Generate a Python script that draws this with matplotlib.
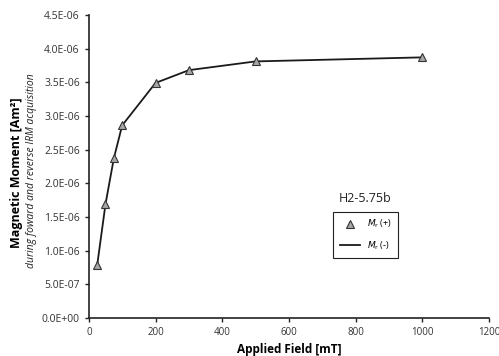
import numpy as np
import matplotlib
matplotlib.use("Agg")
import matplotlib.pyplot as plt
from matplotlib.ticker import FuncFormatter, MultipleLocator
from matplotlib.lines import Line2D

plt.rcParams["font.family"] = ["Open Sans", "DejaVu Sans"]

# IRM acquisition, sample H2-5.75b
field_mT = [25, 50, 75, 100, 200, 300, 500, 1000]
moment_pos = [7.8e-7, 1.69e-6, 2.37e-6, 2.86e-6, 3.49e-6, 3.68e-6, 3.81e-6, 3.87e-6]
moment_neg = [7.8e-7, 1.69e-6, 2.37e-6, 2.86e-6, 3.49e-6, 3.68e-6, 3.81e-6, 3.87e-6]

fig = plt.figure(figsize=(4.99, 3.56), dpi=100)
ax = fig.add_axes([0.178, 0.107, 0.802, 0.851])

ax.plot(field_mT, moment_neg, "-", color="#1a1a1a", lw=1.3, zorder=2)
ax.plot(field_mT, moment_pos, "^", ms=6, mfc="#a6a6a6", mec="#333333", mew=0.8, zorder=3)

ax.set_xlim(0, 1200)
ax.set_ylim(0, 4.5e-6)
ax.xaxis.set_major_locator(MultipleLocator(200))
ax.yaxis.set_major_locator(MultipleLocator(5e-7))
ax.yaxis.set_major_formatter(FuncFormatter(lambda v, p: f"{v:.1E}"))
ax.tick_params(labelsize=7, length=3, width=1, color="#222222", labelcolor="#333333")
ax.tick_params(axis="y", labelsize=7.5, pad=3.5)
for s in ["top", "right"]:
    ax.spines[s].set_visible(False)
for s in ["left", "bottom"]:
    ax.spines[s].set_linewidth(1.2)
    ax.spines[s].set_color("#222222")

ax.set_xlabel("Applied Field [mT]", fontsize=8.5, fontweight="bold", labelpad=4)
fig.text(0.034, 0.514, "Magnetic Moment [Am²]", rotation=90, fontsize=9,
         fontweight="bold", ha="center", va="center")
fig.text(0.064, 0.52, "during foward and reverse IRM acquisition", rotation=90,
         fontsize=7.5, style="italic", ha="center", va="center", color="#222222")

handles = [Line2D([], [], ls="none", marker="^", ms=5.5, mfc="#a6a6a6", mec="#333333", mew=0.8),
           Line2D([], [], color="#1a1a1a", lw=1.3)]
leg = ax.legend(handles, [r"$M_\mathrm{r}$ (+)", r"$M_\mathrm{r}$ (-)"],
                loc="upper left", bbox_to_anchor=(0.60, 0.366), fontsize=6.5,
                fancybox=False, framealpha=1, edgecolor="#222222",
                handlelength=2.2, borderpad=0.7, labelspacing=1.0)
leg.get_frame().set_linewidth(0.8)
ax.text(0.69, 0.393, "H2-5.75b", transform=ax.transAxes, ha="center", va="center",
        fontsize=9, color="#222222")

fig.savefig("out.png", dpi=100)
